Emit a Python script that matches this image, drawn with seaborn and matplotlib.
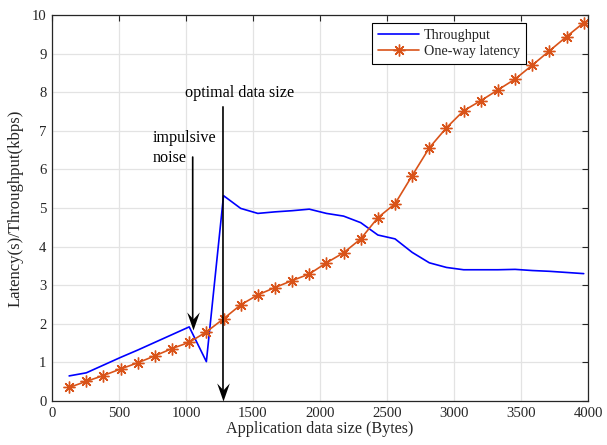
import matplotlib
matplotlib.use("Agg")
import matplotlib.pyplot as plt
from matplotlib.path import Path
import numpy as np
import pandas as pd
import seaborn as sns

# ---- data ----
data_size = [128, 256, 384, 512, 640, 768, 896, 1024, 1152, 1280, 1408, 1536,
             1664, 1792, 1920, 2048, 2176, 2304, 2432, 2560, 2688, 2816, 2944,
             3072, 3200, 3328, 3456, 3584, 3712, 3840, 3968]
throughput = [0.65, 0.73, 0.93, 1.13, 1.32, 1.52, 1.72, 1.92, 1.02, 5.32, 4.99,
              4.86, 4.90, 4.93, 4.97, 4.86, 4.79, 4.62, 4.30, 4.20, 3.85, 3.58,
              3.46, 3.40, 3.40, 3.40, 3.41, 3.38, 3.36, 3.33, 3.30]
latency = [0.35, 0.51, 0.66, 0.83, 0.99, 1.17, 1.36, 1.52, 1.79, 2.13, 2.49,
           2.75, 2.94, 3.12, 3.29, 3.58, 3.84, 4.20, 4.75, 5.11, 5.84, 6.56,
           7.08, 7.52, 7.78, 8.06, 8.34, 8.70, 9.07, 9.44, 9.80]
x_ticks = [0, 500, 1000, 1500, 2000, 2500, 3000, 3500, 4000]
y_ticks = [0, 1, 2, 3, 4, 5, 6, 7, 8, 9, 10]

# annotations: (text, text x, text y, arrow x, arrow start y, arrow end y)
noise_ann = ("impulsive\nnoise", 754, 6.55, 1050, 6.32, 1.84)
optimal_ann = ("optimal data size", 993, 7.98, 1276, 7.62, 0.0)

df = pd.DataFrame({"size": data_size, "Throughput": throughput,
                   "One-way latency": latency})

sns.set_style("whitegrid")
plt.rcParams["font.family"] = ["Liberation Serif", "DejaVu Serif"]

fig = plt.figure(figsize=(6.07, 4.45), dpi=100)
ax = fig.add_axes([52 / 607, 1 - 401 / 445, 536 / 607, 386 / 445])

blue = "#0000FF"
orange = "#D95319"

sns.lineplot(data=df, x="size", y="Throughput", ax=ax, color=blue, lw=1.2,
             label="Throughput", sort=False)
sns.lineplot(data=df, x="size", y="One-way latency", ax=ax, color=orange,
             lw=1.2, marker=(8, 2, 0), markersize=8.5, markeredgewidth=1.0,
             markeredgecolor=orange, label="One-way latency", sort=False)

ax.set_xlim(0, 4000)
ax.set_ylim(0, 10)
ax.set_xticks(x_ticks)
ax.set_yticks(y_ticks)
ax.set_xlabel("Application data size (Bytes)", fontsize=11.6, labelpad=1)
ax.set_ylabel("Latency(s)/Throughput(kbps)", fontsize=12, labelpad=6)
ax.tick_params(axis="both", which="both", direction="in", length=4,
               width=0.8, labelsize=10.6, top=True, right=True, color="#262626",
               labelcolor="#262626", pad=4)
ax.grid(True, color="#e3e3e3", lw=0.9)
for s in ax.spines.values():
    s.set_visible(True)
    s.set_color("#262626")
    s.set_linewidth(0.9)
ax.set_facecolor("white")

# concave arrow head marker (tip at origin, pointing down)
head = Path([(0, 0), (-0.35, 1), (0, 0.62), (0.35, 1), (0, 0)],
            [Path.MOVETO, Path.LINETO, Path.LINETO, Path.LINETO, Path.CLOSEPOLY])

for txt, tx, ty, axx, y0, y1 in (noise_ann, optimal_ann):
    ax.annotate("", xy=(axx, y1 + 0.25), xytext=(axx, y0),
                arrowprops=dict(arrowstyle="-", color="black", lw=1.2,
                                shrinkA=0, shrinkB=0), annotation_clip=False)
    ax.plot([axx], [y1], marker=head, markersize=26, color="black",
            markeredgewidth=0, clip_on=False, zorder=5)
    ax.text(tx, ty, txt, fontsize=11.6, ha="left", va="center", color="black",
            linespacing=1.3)

leg = ax.legend(loc="upper right", bbox_to_anchor=((526 - 52) / 536, 1 - (23 - 15) / 386),
                bbox_transform=ax.transAxes, fontsize=10.2, frameon=True,
                fancybox=False, edgecolor="black", framealpha=1,
                handlelength=2.9, borderpad=0.4, labelspacing=0.25,
                handletextpad=0.35, borderaxespad=0)
leg.get_frame().set_linewidth(0.8)

fig.savefig("out.png", dpi=100)
